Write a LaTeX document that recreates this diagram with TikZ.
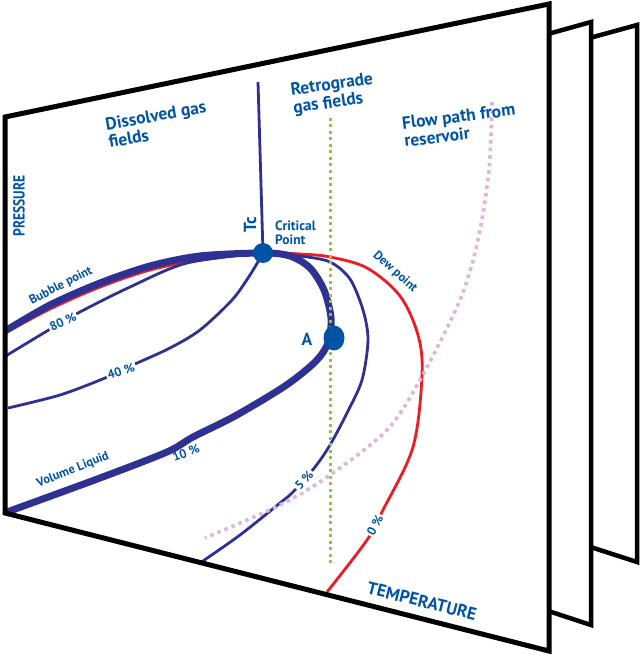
\documentclass[tikz,border=0pt]{standalone}
\usepackage{fontspec}
\setmainfont{PT Sans}
\newfontfamily\condfont[FakeStretch=0.85]{PT Sans}
\usetikzlibrary{shapes.geometric}
\definecolor{curveblue}{RGB}{46,49,146}
\definecolor{textblue}{RGB}{0,84,166}
\definecolor{dewred}{RGB}{237,28,36}
\definecolor{limegreen}{RGB}{141,198,63}
\definecolor{flowpink}{RGB}{221,182,221}
\begin{document}
\begin{tikzpicture}[x=1pt,y=-1pt,
  panelfill/.style={fill=white},
  panelline/.style={draw=black, line width=5pt, line join=miter},
  rearpanel/.style={draw=black, fill=white, line width=4.5pt, line join=miter},
  biglbl/.style={text=textblue, font=\bfseries\fontsize{17.5}{18}\selectfont, inner sep=0pt, align=left},
  midlbl/.style={text=textblue, font=\bfseries\fontsize{13.5}{14}\selectfont, inner sep=0pt, align=left},
  smalllbl/.style={text=textblue, font=\bfseries\fontsize{12.5}{13}\selectfont, inner sep=0pt},
  gaplbl/.style={text=textblue, font=\bfseries\fontsize{12.5}{13}\selectfont, fill=white, inner sep=1.5pt},
  axislbl/.style={text=textblue, font=\condfont\bfseries\fontsize{16}{17}\selectfont, inner sep=0pt},
  templbl/.style={text=textblue, font=\bfseries\fontsize{17.5}{18}\selectfont, inner sep=0pt},
  thincurve/.style={draw=curveblue, line width=2.8pt},
  thickcurve/.style={draw=curveblue, line width=7pt},
  dewcurve/.style={draw=dewred, line width=2.8pt},
  greendots/.style={draw=limegreen, line width=3pt, dash pattern=on 3pt off 3.5pt},
  pinkdots/.style={draw=flowpink, line width=3.6pt, dash pattern=on 3.6pt off 4pt},
  dot/.style={fill=textblue, inner sep=0pt}
]
\useasboundingbox (0,0) rectangle (640,655);

% rear panels
\draw[rearpanel] (575,42) -- (637,25) -- (637,562) -- (575,542) -- cycle;
\draw[rearpanel] (530,39) -- (591,22) -- (591,625) -- (530,605) -- cycle;
% front panel fill
\fill[panelfill] (5,117) -- (549,4) -- (549,651) -- (5,513) -- cycle;

\coordinate (C) at (263,253);

% Tc line
\draw[thincurve] (258,82) -- (C);

% red dew-point curve (runs under the bubble-point curve on the left)
\draw[dewcurve] plot[smooth, tension=0.55] coordinates {(5,333) (50,309) (100,287) (150,270) (200,260) (C) (300,254) (330,257) (367,268) (400,296) (418,335) (422,375) (413,447) (383,510) (367,540) (327,592)};

% 80 % curve
\draw[thincurve] plot[smooth] coordinates {(4,357) (47,331) (78,313) (130,287) (187,263) (C)};
% 40 % curve
\draw[thincurve] plot[smooth] coordinates {(C) (250,275) (232,300) (200,330) (170,348) (135,364) (105,378) (60,395) (8,408)};
% 5 % curve
\draw[thincurve] plot[smooth] coordinates {(C) (300,256) (330,262) (350,279) (363,310) (368,340) (362,380) (347,413) (330,445) (315,467) (293,492) (280,503) (240,535) (200,563)};
% thick bubble point / volume liquid curve
\draw[thickcurve] plot[smooth] coordinates {(5,331) (50,305) (100,283) (150,266) (200,256) (C) (290,256) (310,268) (324,290) (331,318) (328,343) (315,362) (285,386) (235,416) (193,437) (167,452) (100,478) (7,512)};

% dotted lines
\draw[greendots] (330,118) -- (330,563);
\draw[pinkdots] plot[smooth] coordinates {(492,102) (489,170) (478,240) (460,300) (420,380) (387,430) (330,475) (280,505) (205,538)};

% dots
\node[circle, dot, minimum size=20pt] (crit) at (C) {};
\node[ellipse, dot, minimum width=21pt, minimum height=25pt] (Adot) at (334,338) {};

% gap labels on curves
\node[gaplbl, rotate=25] (p80) at (63,322) {80 \%};
\node[gaplbl, rotate=18] (p40) at (121,371) {40 \%};
\node[gaplbl, rotate=48] (p5) at (304,480) {5 \%};
\node[gaplbl, rotate=62] (p0) at (375,525) {0 \%};
\node[fill=white, minimum width=14pt, minimum height=3pt, inner sep=0pt, rotate=24] (cut10) at (200,441) {};
\node[smalllbl, rotate=20] (p10) at (186,453) {10 \%};

% text labels
\node[smalllbl, rotate=27] (bubble) at (61,286) {Bubble point};
\node[smalllbl, rotate=22] (volliq) at (73,470) {Volume Liquid};
\node[smalllbl, rotate=-42] (dew) at (395,272) {Dew point};
\node[midlbl, anchor=west] (critlbl) at (275,233) {Critical\\Point};
\node[biglbl, rotate=90] (tc) at (250,225) {Tc};
\node[biglbl] (alabel) at (307,339) {A};
\node[biglbl, anchor=west, rotate=10] (dissolved) at (107,133) {Dissolved gas\\fields};
\node[biglbl, anchor=west, rotate=8] (retro) at (292,100) {Retrograde\\gas fields};
\node[biglbl, anchor=west, rotate=7] (flow) at (403,132) {Flow path from\\reservoir};
\node[axislbl, rotate=90] (pressure) at (19,206) {PRESSURE};
\node[templbl, rotate=-14] (temp) at (422,601) {TEMPERATURE};

% front panel border
\draw[panelline] (5,117) -- (549,4) -- (549,651) -- (5,513) -- cycle;
\end{tikzpicture}
\end{document}
